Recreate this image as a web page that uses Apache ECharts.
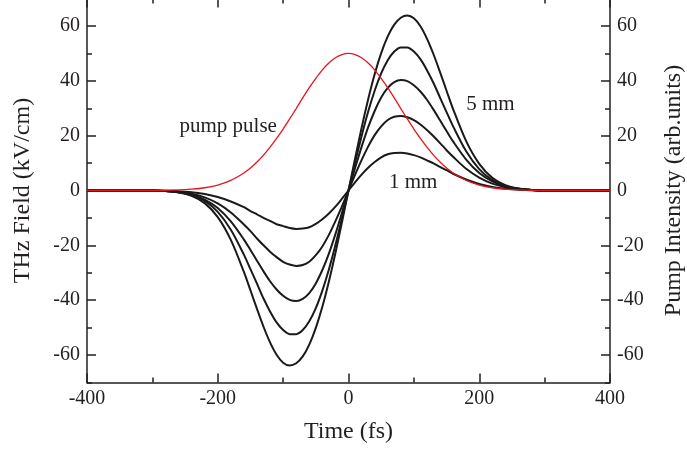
<!DOCTYPE html>
<html><head><meta charset="utf-8">
<script src="https://cdn.jsdelivr.net/npm/echarts@6/dist/echarts.min.js"></script>
<style>html,body{margin:0;padding:0;background:#fff}#c{width:687px;height:450px}</style>
</head><body><div id="c"></div>
<script>
// ---- data ----
const timeFs = [-400,-340,-300,-280,-260,-240,-220,-200,-180,-160,-150,-140,-130,-120,-110,-100,-90,-80,-70,-60,-50,-40,-30,-20,-10,0,10,20,30,40,50,60,70,80,90,100,110,120,130,140,150,160,180,200,220,240,260,280,300,340,400];
const thz1mm = [0,0,0,-0.1,-0.3,-0.6,-1.3,-2.4,-4.0,-6.1,-7.5,-8.7,-10.0,-11.1,-12.3,-13.0,-13.7,-14.0,-13.9,-13.4,-12.2,-10.5,-8.4,-5.9,-3.0,0,3.0,5.8,8.3,10.4,12.1,13.2,13.7,13.8,13.5,12.9,12.1,11.0,9.9,8.6,7.4,6.1,4.0,2.4,1.3,0.6,0.3,0.1,0,0,0];
const thz2mm = [0,0,0,-0.2,-0.5,-1.2,-2.5,-4.7,-8.0,-12.4,-14.8,-17.5,-20.0,-22.3,-24.3,-26.0,-27.0,-27.5,-27.2,-26.0,-23.6,-20.4,-16.2,-11.2,-5.8,0,5.7,11.1,16.0,20.2,23.4,25.7,26.9,27.2,26.7,25.7,24.1,22.1,19.8,17.3,14.7,12.3,7.9,4.7,2.5,1.2,0.5,0.2,0,0,0];
const thz3mm = [0,0,0,-0.2,-0.6,-1.5,-3.3,-6.4,-11.3,-17.9,-21.7,-25.6,-29.5,-33.1,-36.1,-38.4,-39.9,-40.3,-39.5,-37.4,-33.9,-29.0,-23.0,-15.9,-8.1,0,8.1,15.9,23.0,29.0,33.9,37.4,39.5,40.3,39.9,38.4,36.1,33.1,29.5,25.6,21.7,17.9,11.3,6.4,3.3,1.5,0.6,0.2,0,0,0];
const thz4mm = [0,0,0,-0.2,-0.6,-1.7,-3.8,-7.8,-14.3,-23.4,-28.7,-34.0,-39.4,-44.1,-48.1,-50.9,-52.4,-52.4,-50.9,-47.7,-42.9,-36.5,-28.8,-19.9,-10.1,0,10.1,19.8,28.7,36.4,42.7,47.5,50.7,52.2,52.2,50.7,47.9,43.9,39.2,33.9,28.6,23.4,14.3,7.8,3.8,1.7,0.6,0.2,0,0,0];
const thz5mm = [0,0,0,-0.2,-0.7,-1.9,-4.6,-9.7,-18.0,-29.7,-36.4,-43.2,-49.7,-55.4,-59.9,-62.8,-63.8,-63.0,-60.5,-56.2,-50.1,-42.4,-33.2,-22.8,-11.6,0,11.6,22.8,33.2,42.4,50.1,56.2,60.5,63.0,63.8,62.8,59.9,55.4,49.7,43.2,36.4,29.7,18.0,9.7,4.6,1.9,0.7,0.2,0,0,0];
const pumpPulse = [0,0,0,0.1,0.2,0.5,1.0,2.0,3.7,6.4,8.2,10.4,12.9,15.8,19.0,22.4,26.1,29.9,33.8,37.5,40.9,44.0,46.5,48.4,49.6,50,49.6,48.4,46.5,44.0,40.9,37.5,33.8,29.9,26.1,22.4,19.0,15.8,12.9,10.4,8.2,6.4,3.7,2.0,1.0,0.5,0.2,0.1,0,0,0];
const yTickValues = [-60,-40,-20,0,20,40,60];
const annotationTexts = ['pump pulse','5 mm','1 mm'];
const annotationTimes = [-184, 217, 99];
const annotationValues = [23.5, 31.2, 3.1];

// ---- chart ----
const FONT = 'Liberation Serif';
const TXT = '#231f20';
const AX = '#231f20';
const chart = echarts.init(document.getElementById('c'), null, {renderer:'canvas'});
const pairs = arr => timeFs.map((t,i) => [t, arr[i]]);

const lineCommon = {color: AX, width: 1.5};
const labelStyle = {fontFamily: FONT, fontSize: 20, color: TXT};
const nameStyle = {fontFamily: FONT, fontSize: 24, color: TXT};

function xAx(pos, showLabel) {
  return {
    type:'value', min:-400, max:400, interval:200, position:pos,
    axisLine:{show:true, onZero:false, lineStyle:lineCommon},
    axisTick:{show:true, inside:true, length:9, lineStyle:lineCommon},
    minorTick:{show:true, splitNumber:2, length:5, lineStyle:lineCommon},
    axisLabel:Object.assign({show:showLabel, margin:6}, labelStyle),
    splitLine:{show:false}, minorSplitLine:{show:false},
    name: showLabel ? 'Time (fs)' : '', nameLocation:'middle', nameGap:37, nameTextStyle:nameStyle
  };
}
function yMajor(pos, name) {
  return {
    type:'value', min:-70, max:70, position:pos,
    axisLine:{show:true, onZero:false, lineStyle:lineCommon},
    axisTick:{show:true, inside:true, length:9, lineStyle:lineCommon, customValues:yTickValues},
    axisLabel:Object.assign({show:true, margin:7, customValues:yTickValues}, labelStyle),
    splitLine:{show:false},
    name:name, nameLocation:'middle', nameRotate:90, nameGap:52, nameTextStyle:nameStyle
  };
}
function yMinor(pos) {
  return {
    type:'value', min:-70, max:70, interval:10, position:pos,
    axisLine:{show:false, onZero:false},
    axisTick:{show:true, inside:true, length:5, lineStyle:lineCommon},
    axisLabel:{show:false}, splitLine:{show:false}
  };
}

const blackSeries = [thz1mm, thz2mm, thz3mm, thz4mm, thz5mm].map((arr, i) => ({
  type:'line', name:(i+1)+' mm', data:pairs(arr), xAxisIndex:0, yAxisIndex:0,
  showSymbol:false, smooth:0.3, lineStyle:{color:'#1a1a1a', width:2}, z:2
}));

chart.setOption({
  animation:false,
  backgroundColor:'#ffffff',
  grid:{left:87, right:77, top:-1.4, bottom:67.6, containLabel:false, outerBoundsMode:'none'},
  xAxis:[xAx('bottom', true), xAx('top', false)],
  yAxis:[yMajor('left','THz Field (kV/cm)'), yMinor('left'), yMajor('right','Pump Intensity (arb.units)'), yMinor('right')],
  series: blackSeries.concat([{
    type:'line', name:'pump pulse', data:pairs(pumpPulse), xAxisIndex:0, yAxisIndex:0,
    showSymbol:false, smooth:0.3, lineStyle:{color:'#e8141c', width:1.3}, z:3
  }])
});

const graphics = annotationTexts.map((txt, i) => {
  const p = chart.convertToPixel({xAxisIndex:0, yAxisIndex:0}, [annotationTimes[i], annotationValues[i]]);
  return {type:'text', x:p[0], y:p[1], z:10,
    style:{text:txt, font:'21px "Liberation Serif"', fill:TXT, align:'center', verticalAlign:'middle'}};
});
chart.setOption({graphic:graphics});
</script>
</body></html>
